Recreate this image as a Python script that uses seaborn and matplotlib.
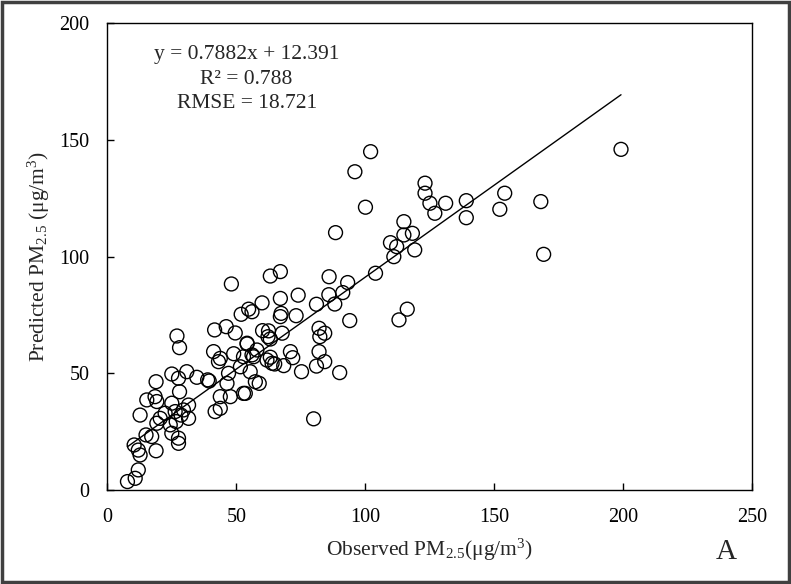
"""Observed vs predicted PM2.5 scatter with fitted line."""

import matplotlib

matplotlib.use("Agg")
import numpy as np
import pandas as pd
import seaborn as sns
import matplotlib.pyplot as plt
from matplotlib.patches import Rectangle

# observed PM2.5 (x) and predicted PM2.5 (y)
observed = [
    7.8, 10.8, 12.0, 12.7, 12.0, 10.4, 18.9, 15.0, 17.2, 25.0,
    27.6, 27.6, 19.2, 24.4, 12.7, 22.4, 26.3, 29.5, 31.5, 31.5,
    25.0, 28.6, 26.7, 20.5, 15.3, 18.5, 19.2, 28.0, 18.9, 25.0,
    27.6, 30.8, 34.7, 38.9, 39.5, 27.0, 28.0,
    41.8, 43.8, 43.8, 47.7, 52.8, 47.0, 46.4, 55.4, 57.4, 58.9,
    41.2, 43.8, 43.1, 49.0, 54.2, 56.7, 41.6, 46.1, 49.6, 51.9,
    54.8, 56.1, 60.0, 48.1,
    60.2, 62.3, 62.5, 63.2, 67.8, 54.2, 58.0, 56.1, 61.9, 71.0,
    71.9, 63.2, 64.9, 68.4, 53.5, 51.6, 52.8, 63.9,
    63.2, 67.1, 67.1, 74.0, 67.1, 67.4, 73.2, 81.1, 85.9, 88.2,
    91.3, 86.0, 93.2, 94.0, 82.1, 84.3, 82.4, 82.1, 84.3, 81.1,
    75.3, 90.1, 80.0,
    88.5, 96.0, 102.1, 100.1, 104.0,
    109.8, 112.2, 111.1, 115.0, 115.0, 118.3, 119.2, 116.3, 113.1, 123.2,
    123.2, 125.1, 127.0, 131.2, 139.2, 139.2, 154.1, 152.2, 168.1, 169.2,
    199.2,
]
predicted = [
    3.6, 5.0, 8.6, 15.0, 17.1, 19.3, 16.8, 23.6, 22.9, 24.3,
    22.2, 20.0, 28.6, 27.9, 32.1, 32.9, 33.6, 34.3, 36.4, 30.7,
    37.2, 32.1, 29.3, 30.7, 38.6, 40.0, 37.9, 42.1, 46.4, 49.7,
    47.9, 50.7, 48.3, 47.2, 46.7, 66.0, 61.0,
    33.6, 35.0, 40.0, 40.0, 41.4, 50.0, 45.7, 50.7, 46.4, 45.7,
    59.3, 56.4, 55.0, 58.4, 62.9, 57.1, 68.6, 70.0, 67.3, 75.3,
    77.5, 76.4, 80.2, 88.3,
    68.3, 65.7, 68.2, 64.7, 67.2, 62.6, 60.0, 57.9, 55.7, 59.3,
    56.7, 56.9, 54.0, 53.3, 41.4, 52.8, 57.1, 54.3,
    91.7, 93.6, 82.1, 83.5, 74.3, 75.7, 74.7, 79.6, 83.7, 79.7,
    84.6, 91.4, 88.9, 72.6, 69.3, 67.2, 65.7, 59.3, 55.0, 53.1,
    50.7, 50.3, 30.5,
    110.3, 136.4, 145.0, 121.2, 92.9,
    106.0, 104.3, 100.0, 115.0, 109.3, 110.0, 102.9, 77.5, 72.9, 131.5,
    127.2, 122.9, 118.6, 122.9, 124.0, 116.7, 127.2, 120.3, 123.6, 101.0,
    146.0,
]

slope = 0.7882
intercept = 12.391
stats_lines = ["y = 0.7882x + 12.391", "R\u00b2 = 0.788", "RMSE = 18.721"]

df = pd.DataFrame({"observed": observed, "predicted": predicted})
fit = pd.DataFrame({"observed": [min(observed), max(observed)]}).assign(
    predicted=lambda d: slope * d["observed"] + intercept
)

sns.set_theme(style="ticks")
plt.rcParams["font.family"] = ["Liberation Serif", "DejaVu Serif"]
plt.rcParams["mathtext.fontset"] = "custom"
plt.rcParams["mathtext.rm"] = "Liberation Serif"
plt.rcParams["mathtext.it"] = "Liberation Serif:italic"

fig = plt.figure(figsize=(7.91, 5.84), dpi=100)
ax = fig.add_axes([0.1357, 0.161, 0.815, 0.799])

sns.lineplot(data=fit, x="observed", y="predicted", color="black", lw=1.0, ax=ax)
sns.scatterplot(
    data=df,
    x="observed",
    y="predicted",
    marker="o",
    s=100,
    facecolors="none",
    edgecolor="black",
    linewidth=1.0,
    ax=ax,
)
ax.collections[-1].set_facecolor("none")

ax.set_xlim(0, 250)
ax.set_ylim(0, 200)
ax.set_xticks(range(0, 251, 50))
ax.set_yticks(range(0, 201, 50))
ax.tick_params(direction="in", length=5, width=1, labelsize=14.5, colors="black")
ax.tick_params(axis="x", pad=13)
ax.tick_params(axis="y", pad=13)
for s in ax.spines.values():
    s.set_visible(True)
    s.set_color("black")
    s.set_linewidth(1.0)

ax.set_xlabel(r"Observed PM$_{\mathrm{2.5}}$(μg/m$^{\mathrm{3}}$)", fontsize=15.5, labelpad=7)
ax.set_ylabel(r"Predicted PM$_{\mathrm{2.5}}$ (μg/m$^{\mathrm{3}}$)", fontsize=15.5, labelpad=5)

for i, line in enumerate(stats_lines):
    ax.text(54, 186.5 - i * 10.4, line, ha="center", va="center", fontsize=15.5)

fig.text(0.918, 0.055, "A", ha="center", va="center", fontsize=21)

# dark frame around the whole picture
fig.patches.append(
    Rectangle((0.002, 0.003), 0.996, 0.994, transform=fig.transFigure,
              fill=False, edgecolor="#404040", linewidth=2.5)
)

fig.savefig("out.png", dpi=100)
